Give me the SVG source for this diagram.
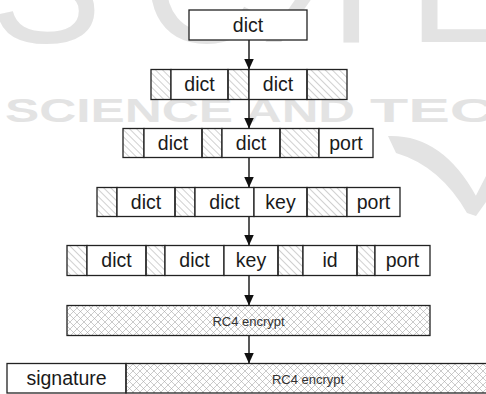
<svg xmlns="http://www.w3.org/2000/svg" width="486" height="394" viewBox="0 0 486 394">
  <defs>
    <!-- diagonal padding hatch -->
    <pattern id="hatch" patternUnits="userSpaceOnUse" width="5" height="5" patternTransform="rotate(-45)">
      <line x1="0" y1="0" x2="0" y2="5" stroke="#8a8a8a" stroke-width="0.8"/>
    </pattern>
    <!-- cross hatch for encrypted payload -->
    <pattern id="cross" patternUnits="userSpaceOnUse" width="7" height="7">
      <path d="M0,0 L7,7 M7,0 L0,7" stroke="#a8a8a8" stroke-width="0.6" fill="none"/>
    </pattern>
    <marker id="arrow" markerUnits="userSpaceOnUse" markerWidth="11" markerHeight="10" refX="11" refY="5" orient="auto">
      <path d="M0,0 L11,5 L0,10 Z" fill="#111"/>
    </marker>
  </defs>
  <style>
    .box { fill: #fff; stroke: #222; stroke-width: 1.3; }
    .pad { fill: url(#hatch); stroke: #222; stroke-width: 1.3; }
    .enc { fill: url(#cross); stroke: #222; stroke-width: 1.3; }
    .lbl { font-family: "Liberation Sans", Arial, sans-serif; font-size: 19.5px; fill: #1a1a1a; text-anchor: middle; }
    .enc-lbl { font-family: "Liberation Sans", Arial, sans-serif; font-size: 13px; fill: #333; text-anchor: middle; }
    .wm { font-family: "Liberation Sans", Arial, sans-serif; fill: #e3e3e3; }
    .conn { stroke: #111; stroke-width: 1.4; fill: none; marker-end: url(#arrow); }
  </style>

  <rect width="486" height="394" fill="#fff"/>

  <!-- background publisher mark -->
  <g id="watermark">
    <text class="wm" x="-10" y="42" font-size="168">S</text>
    <text class="wm" x="142" y="42" font-size="168">C</text>
    <text class="wm" x="250" y="42" font-size="168" transform="translate(30,0) skewX(-35) translate(-30,0)" style="transform-origin:0 42px">I</text>
    <text class="wm" x="300" y="42" font-size="168">T</text>
    <text class="wm" x="408" y="42" font-size="168">E</text>
    <text class="wm" x="5" y="122" font-size="34" font-weight="bold" textLength="228" lengthAdjust="spacingAndGlyphs">SCIENCE</text>
    <text class="wm" x="245" y="122" font-size="34" font-weight="bold" textLength="110" lengthAdjust="spacingAndGlyphs">AND</text>
    <text class="wm" x="370" y="122" font-size="34" font-weight="bold" textLength="125" lengthAdjust="spacingAndGlyphs">TEC</text>
    <path d="M388,136 Q442,134 476,196 L467,213 Q440,166 396,153 Z M467,213 L486,176 L486,202 L476,216 Z" fill="#e3e3e3"/>
  </g>

  <!-- connectors -->
  <g id="connectors">
    <line class="conn" x1="249" y1="40" x2="249" y2="69.5"/>
    <line class="conn" x1="249" y1="99.5" x2="249" y2="128.5"/>
    <line class="conn" x1="249" y1="157.5" x2="249" y2="187.5"/>
    <line class="conn" x1="249" y1="216.5" x2="249" y2="245.5"/>
    <line class="conn" x1="249" y1="275.5" x2="249" y2="305.5"/>
    <line class="conn" x1="249" y1="335.5" x2="249" y2="363.5"/>
  </g>

  <!-- stage 1: plain dictionary -->
  <g id="stage1">
    <rect class="box" x="189" y="10" width="118" height="30"/>
    <text class="lbl" x="248" y="31.5">dict</text>
  </g>

  <!-- stage 2: two dictionaries with padding -->
  <g id="stage2">
    <rect class="pad" x="151" y="69.5" width="20" height="30"/>
    <rect class="box" x="171" y="69.5" width="57" height="30"/>
    <rect class="pad" x="228" y="69.5" width="21" height="30"/>
    <rect class="box" x="249" y="69.5" width="58" height="30"/>
    <rect class="pad" x="307" y="69.5" width="40" height="30"/>
    <text class="lbl" x="199.5" y="91">dict</text>
    <text class="lbl" x="278" y="91">dict</text>
  </g>

  <!-- stage 3: port appended -->
  <g id="stage3">
    <rect class="pad" x="123" y="128.5" width="21" height="29"/>
    <rect class="box" x="144" y="128.5" width="58" height="29"/>
    <rect class="pad" x="202" y="128.5" width="20" height="29"/>
    <rect class="box" x="222" y="128.5" width="58" height="29"/>
    <rect class="pad" x="280" y="128.5" width="39" height="29"/>
    <rect class="box" x="319" y="128.5" width="54" height="29"/>
    <text class="lbl" x="173" y="149.5">dict</text>
    <text class="lbl" x="251" y="149.5">dict</text>
    <text class="lbl" x="346" y="149.5">port</text>
  </g>

  <!-- stage 4: key inserted -->
  <g id="stage4">
    <rect class="pad" x="97" y="187.5" width="20" height="29"/>
    <rect class="box" x="117" y="187.5" width="58" height="29"/>
    <rect class="pad" x="175" y="187.5" width="20" height="29"/>
    <rect class="box" x="195" y="187.5" width="59" height="29"/>
    <rect class="box" x="254" y="187.5" width="53" height="29"/>
    <rect class="pad" x="307" y="187.5" width="40" height="29"/>
    <rect class="box" x="347" y="187.5" width="53" height="29"/>
    <text class="lbl" x="146" y="208.5">dict</text>
    <text class="lbl" x="224.5" y="208.5">dict</text>
    <text class="lbl" x="280.5" y="208.5">key</text>
    <text class="lbl" x="373.5" y="208.5">port</text>
  </g>

  <!-- stage 5: id inserted -->
  <g id="stage5">
    <rect class="pad" x="67" y="245.5" width="20" height="30"/>
    <rect class="box" x="87" y="245.5" width="59" height="30"/>
    <rect class="pad" x="146" y="245.5" width="19" height="30"/>
    <rect class="box" x="165" y="245.5" width="59" height="30"/>
    <rect class="box" x="224" y="245.5" width="54" height="30"/>
    <rect class="pad" x="278" y="245.5" width="25" height="30"/>
    <rect class="box" x="303" y="245.5" width="54" height="30"/>
    <rect class="pad" x="357" y="245.5" width="18" height="30"/>
    <rect class="box" x="375" y="245.5" width="55" height="30"/>
    <text class="lbl" x="116.5" y="267">dict</text>
    <text class="lbl" x="194.5" y="267">dict</text>
    <text class="lbl" x="251" y="267">key</text>
    <text class="lbl" x="330" y="267">id</text>
    <text class="lbl" x="402.5" y="267">port</text>
  </g>

  <!-- stage 6: whole block encrypted -->
  <g id="stage6">
    <rect class="enc" x="67" y="305.5" width="363" height="30"/>
    <text class="enc-lbl" x="248.5" y="325.5">RC4 encrypt</text>
  </g>

  <!-- stage 7: signature prepended -->
  <g id="stage7">
    <rect class="box" x="7" y="363.5" width="119" height="29.5"/>
    <rect class="enc" x="126" y="363.5" width="366" height="29.5"/>
    <text class="lbl" x="66.5" y="385">signature</text>
    <text class="enc-lbl" x="308" y="383.5">RC4 encrypt</text>
  </g>
</svg>
